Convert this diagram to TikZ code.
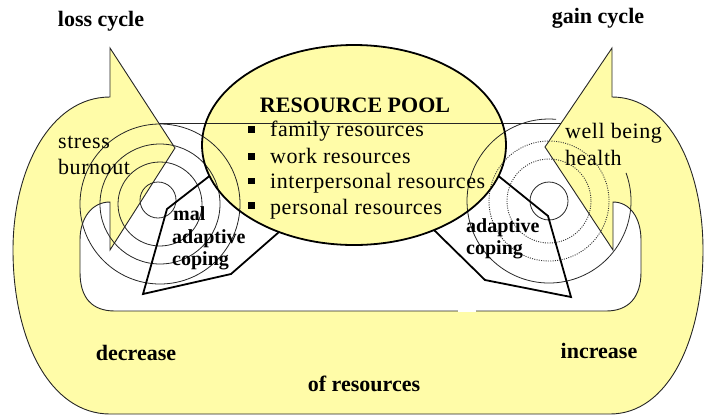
\documentclass[tikz,border=0pt]{standalone}
\usepackage{fontspec}
\setmainfont{Liberation Serif}
\newfontfamily\spacedserif[LetterSpace=2.5]{Liberation Serif}
\definecolor{pale}{RGB}{255,252,168}
\begin{document}
\begin{tikzpicture}[x=1pt,y=-1pt,
  outline/.style={draw=black!85, line width=0.9pt, line join=miter},
  ring/.style={draw=black!85, line width=0.8pt},
  dotring/.style={draw=black!80, line width=0.9pt, dash pattern=on 1pt off 1.3pt},
  heavy/.style={draw=black, line width=1.8pt, line join=miter},
  lab/.style={font=\fontsize{22}{26}\selectfont\bfseries, inner sep=0pt, anchor=base},
  plain/.style={font=\spacedserif\fontsize{22}{26}\selectfont, inner sep=0pt, anchor=base west},
  cope/.style={font=\fontsize{20}{24}\selectfont\bfseries, inner sep=0pt, anchor=base west},
  bul/.style={fill=black, minimum size=6.5pt, inner sep=0pt}]
\useasboundingbox (0,0) rectangle (706,416);
\def\bandpath{(110,48) -- (175,148) -- (110,250) -- (110,202)
  .. controls (92,202) and (80,218) .. (80,240)
  -- (80,272) .. controls (80,298) and (92,311) .. (115,311)
  -- (606,311) .. controls (628,311) and (641,298) .. (641,272)
  -- (641,240) .. controls (641,218) and (630,202) .. (613,202)
  -- (613,250) -- (545,147) -- (612,48) -- (612,97)
  .. controls (670,97) and (703,170) .. (703,250)
  .. controls (703,340) and (668,414) .. (610,414)
  -- (110,414) .. controls (50,414) and (13,340) .. (13,250)
  .. controls (13,170) and (50,97) .. (110,97) -- cycle}
% yellow band with the two arrowheads
\fill[pale] \bandpath;
\draw[outline] \bandpath;
\fill[white] (458,310.2) rectangle (476,311.7);
% resource pool fill
\fill[pale] (354,145) ellipse [x radius=152, y radius=100];
% top line
\draw[ring] (159,123) -- (561,123);
% loss cycle rings
\draw[ring] (160,204) circle [radius=80];
\draw[ring] (160,204) circle [radius=60];
\draw[ring] (160,204) circle [radius=42];
\draw[ring] (158,200) circle [radius=18];
% gain cycle rings
\draw[ring] (549,201) ++(-20:82) arc [start angle=-20, end angle=275, radius=82];
\draw[dotring] (549,201) circle [radius=60];
\draw[dotring] (549,201) circle [radius=42];
\draw[ring] (549,201) circle [radius=19];
% pool outline
\draw[heavy] (354,145) ellipse [x radius=152, y radius=100];
% coping shapes
\coordinate (la) at (209.5,176);
\coordinate (lb) at (167,209);
\coordinate (lc) at (143,294);
\coordinate (ld) at (231,274);
\coordinate (le) at (279,232);
\draw[heavy] (la) -- (lb) -- (lc) -- (ld) -- (le);
\coordinate (ra) at (498.5,176);
\coordinate (rb) at (548,216);
\coordinate (rc) at (571,297);
\coordinate (rd) at (485,280);
\coordinate (re) at (434,230);
\draw[heavy] (ra) -- (rb) -- (rc) -- (rd) -- (re);
% texts
\node[lab] (loss) at (101,26) {loss cycle};
\node[lab] (gain) at (598,23.5) {gain cycle};
\node[lab] (pool) at (355,112.5) {RESOURCE POOL};
\node[bul] (b1) at (251.5,129.5) {};
\node[bul] (b2) at (251.5,156.5) {};
\node[bul] (b3) at (251.5,181) {};
\node[bul] (b4) at (251.5,205.5) {};
\node[plain] (t1) at (270,136) {family resources};
\node[plain] (t2) at (270,163) {work resources};
\node[plain] (t3) at (270,188) {interpersonal resources};
\node[plain] (t4) at (270,214) {personal resources};
\node[plain] (stress) at (58,148) {stress};
\node[plain] (burn) at (58,174) {burnout};
\node[plain] (well) at (565,138) {well being};
\node[plain] (health) at (565,165) {health};
\node[cope] (mal) at (173,220) {mal};
\node[cope] (ad1) at (172,243) {adaptive};
\node[cope] (co1) at (172,265) {coping};
\node[cope] (ad2) at (466,232) {adaptive};
\node[cope] (co2) at (466,254) {coping};
\node[lab] (dec) at (136,360) {decrease};
\node[lab] (inc) at (599,358) {increase};
\node[lab] (ofr) at (364,391) {of resources};
\end{tikzpicture}
\end{document}
